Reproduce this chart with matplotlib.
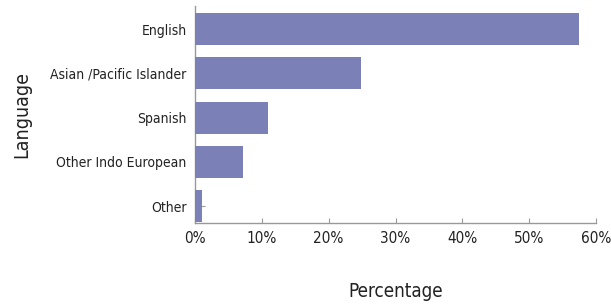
import matplotlib
matplotlib.use("Agg")
import matplotlib.pyplot as plt
from matplotlib.ticker import PercentFormatter

# data
languages = ["English", "Asian /Pacific Islander", "Spanish", "Other Indo European", "Other"]
percent = [57.5, 24.9, 10.9, 7.2, 1.0]
x_ticks = [0, 10, 20, 30, 40, 50, 60]

plt.rcParams['font.family'] = ['DejaVu Sans']
plt.rcParams['font.stretch'] = 'condensed'

fig = plt.figure(figsize=(6.11, 3.06), dpi=100)
ax = fig.add_axes([0.3191, 0.2712, 0.6564, 0.7092])

# plot bottom-up so English ends at the top
y_pos = list(range(len(languages)))[::-1]
ax.barh(y_pos, percent, height=0.72, color="#7b80b7", zorder=3)
ax.set_axisbelow(True)

ax.set_ylim(-0.38, 4.52)
ax.set_xlim(0, 60)
ax.set_xticks(x_ticks)
ax.xaxis.set_major_formatter(PercentFormatter(decimals=0))
ax.set_yticks(y_pos)
ax.set_yticklabels(languages)

for side in ["top", "right"]:
    ax.spines[side].set_visible(False)
for side in ["left", "bottom"]:
    ax.spines[side].set_color("#999999")
    ax.spines[side].set_linewidth(1.0)

ax.tick_params(axis="both", direction="in", color="#999999", labelcolor="#222222")
ax.tick_params(axis="y", length=7, pad=6, labelsize=10)
ax.tick_params(axis="x", length=3.5, pad=6, labelsize=11)

ax.set_xlabel("Percentage", fontsize=13.5, color="#222222", labelpad=26)
ax.set_ylabel("Language", fontsize=14, color="#222222", labelpad=14)

fig.savefig("out.png", dpi=100)
